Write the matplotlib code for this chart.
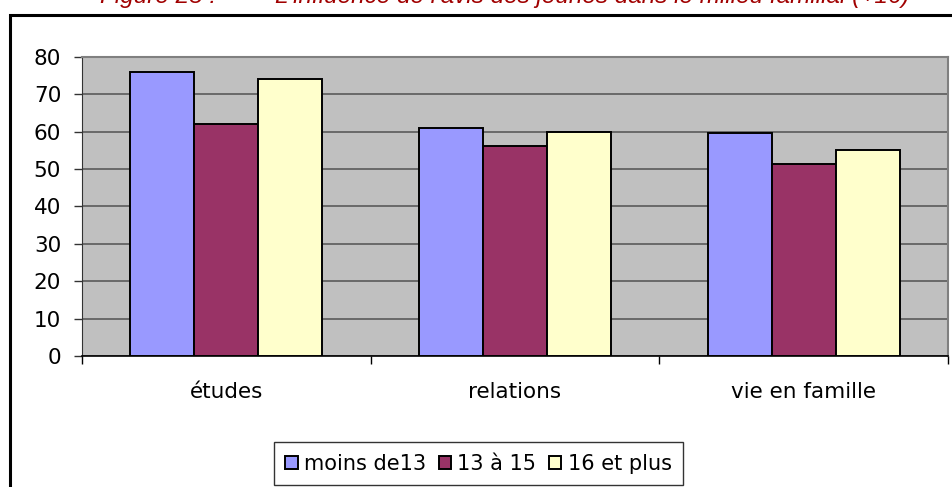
import numpy as np
import matplotlib
matplotlib.use("Agg")
import matplotlib.pyplot as plt
from matplotlib.patches import Rectangle, Patch

categories = ["études", "relations", "vie en famille"]
series_names = ["moins de13", "13 à 15", "16 et plus"]
moins_13 = [76, 61, 59.5]
de_13_a_15 = [62, 56, 51.3]
plus_16 = [74, 60, 55]
y_ticks = [0, 10, 20, 30, 40, 50, 60, 70, 80]

colors = ["#9999FF", "#993366", "#FFFFCC"]
title_num = "Figure 25 :"
title_text = "L'influence de l'avis des jeunes dans le milieu familial (+16)"

plt.rcParams["font.family"] = ["DejaVu Sans"]

fig = plt.figure(figsize=(9.53, 4.87), dpi=100)

# outer chart frame (cut off on right and bottom)
top = 1 - 14.7 / 487
frame = Rectangle((10 / 953, -0.2), 1.2, top + 0.2,
                  transform=fig.transFigure, fill=False, edgecolor="black",
                  linewidth=2.2)
fig.add_artist(frame)

# title, cut off at the top of the image
for xpos, txt in [(100, title_num), (275, title_text)]:
    fig.text(xpos / 953, 1 - 3.5 / 487, txt, color="#A00000",
             family="Liberation Sans", fontstyle="italic", fontsize=17.5,
             ha="left", va="baseline")

ax = fig.add_axes([82 / 953, 1 - 356 / 487, 866 / 953, (356 - 56.7) / 487])
ax.set_facecolor("#C0C0C0")

x = np.arange(len(categories))
width = 0.222
all_series = [moins_13, de_13_a_15, plus_16]
for k, (vals, col) in enumerate(zip(all_series, colors)):
    ax.bar(x + (k - 1) * width, vals, width, color=col, edgecolor="black",
           linewidth=1.4, zorder=3, label=series_names[k])

ax.set_xlim(-0.5, 2.5)
ax.set_ylim(0, 80)
ax.set_yticks(y_ticks)
ax.yaxis.grid(True, color="#5A5A5A", linewidth=1.2, zorder=1)
ax.set_axisbelow(True)

ax.set_xticks(x)
ax.set_xticklabels(categories)
ax.set_xticks([-0.5, 0.5, 1.5, 2.5], minor=True)
ax.tick_params(axis="x", which="major", length=0, pad=19, labelsize=15.5)
ax.tick_params(axis="x", which="minor", length=6, width=1, color="black",
               direction="out")
ax.tick_params(axis="y", length=6, width=1, color="#333333", pad=9,
               labelsize=15.5)

for side in ["top", "right"]:
    ax.spines[side].set_color("#808080")
    ax.spines[side].set_linewidth(1.5)
ax.spines["left"].set_color("#333333")
ax.spines["bottom"].set_color("black")
ax.spines["bottom"].set_linewidth(1.2)

handles = [Patch(facecolor=c, edgecolor="black", linewidth=1.4) for c in colors]
leg = fig.legend(handles, series_names, loc="center",
                 bbox_to_anchor=(478.5 / 953, 1 - 463.5 / 487), ncol=3,
                 fontsize=15, frameon=True, fancybox=False,
                 handlelength=0.6, handleheight=0.6, handletextpad=0.3,
                 columnspacing=0.6, borderpad=0.55, borderaxespad=0)
leg.get_frame().set_edgecolor("black")
leg.get_frame().set_linewidth(1.0)

fig.savefig("out.png", dpi=100)
